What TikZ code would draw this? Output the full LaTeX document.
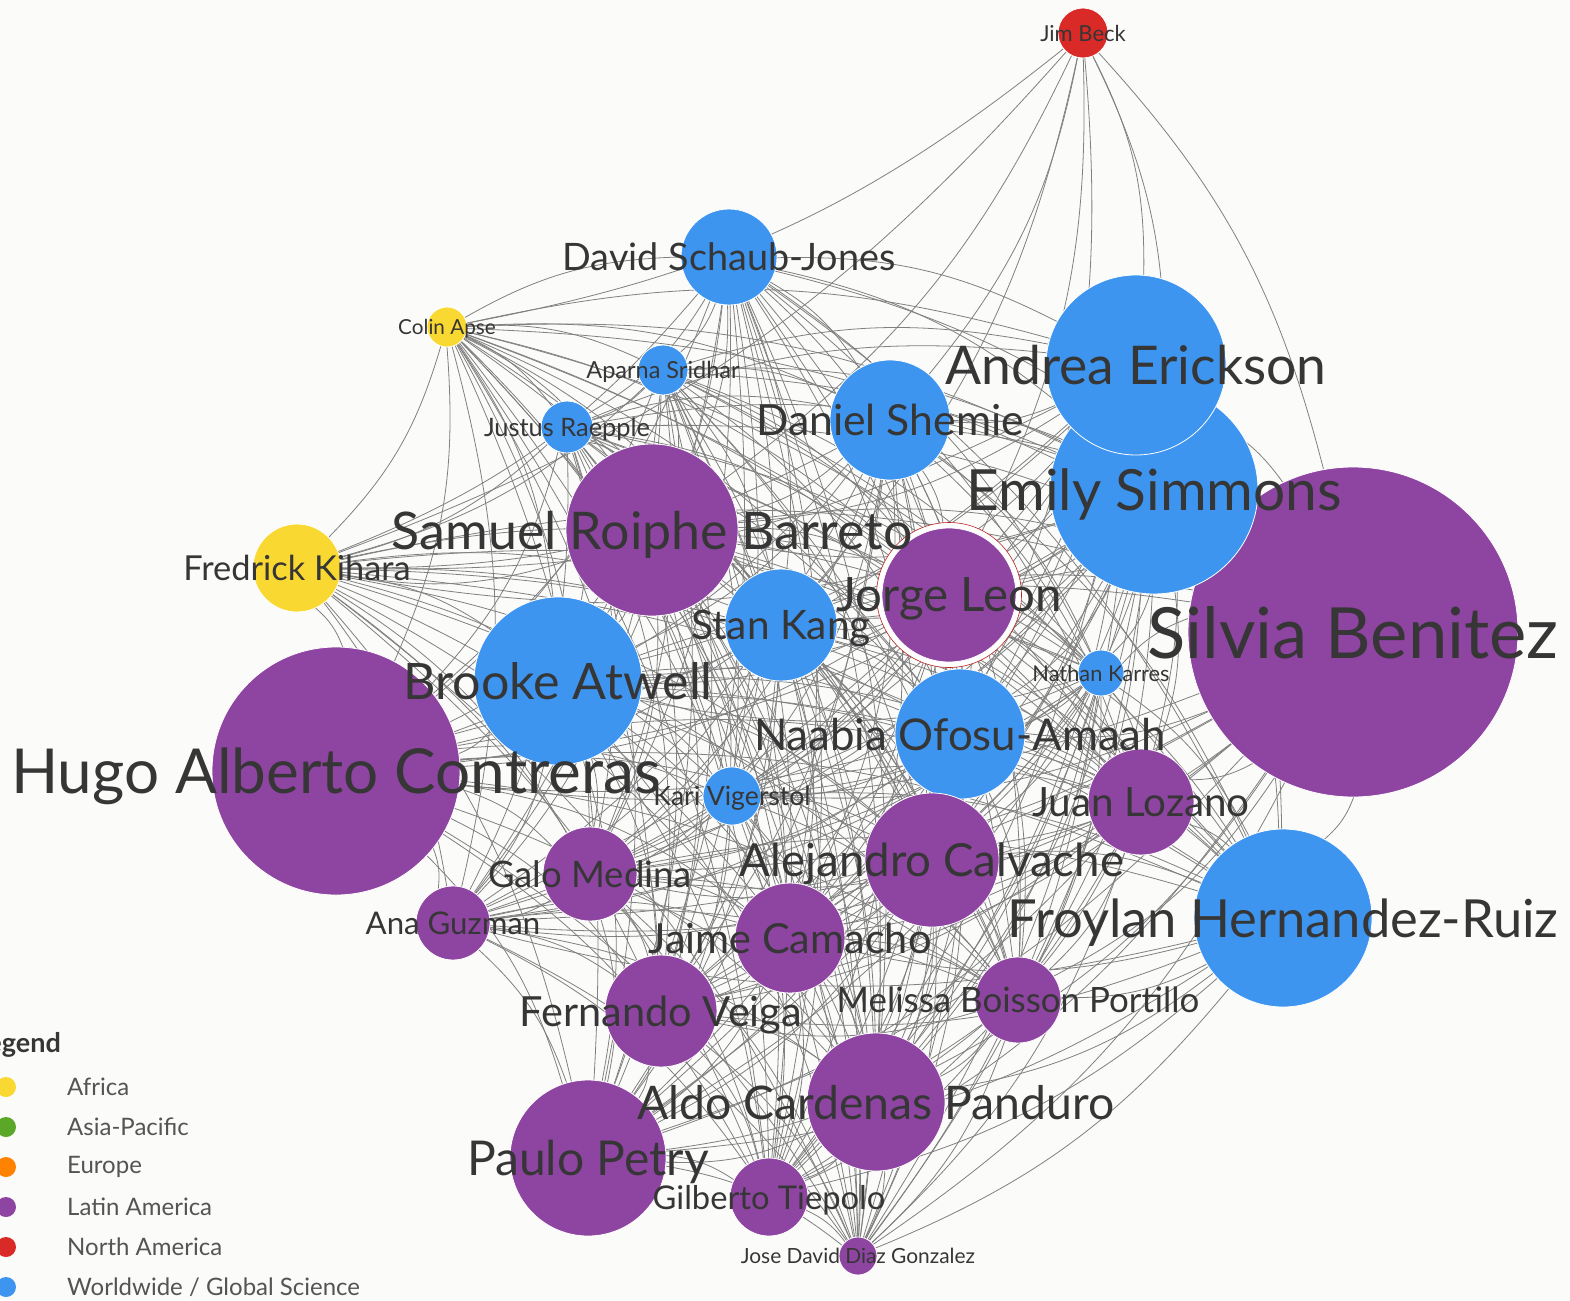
\documentclass[tikz,border=0pt]{standalone}
\usepackage{fontspec}
\setmainfont{Lato}
\usepackage{xcolor}
\usepackage{tikz}
\usetikzlibrary{backgrounds}

\definecolor{latam}{HTML}{8E44A1}
\definecolor{world}{HTML}{3D95F0}
\definecolor{africa}{HTML}{F9D931}
\definecolor{namer}{HTML}{D92A27}
\definecolor{asiap}{HTML}{5BA829}
\definecolor{europe}{HTML}{FF8300}
\definecolor{ink}{HTML}{363636}
\definecolor{paper}{HTML}{FBFBF9}

\newcommand{\fsz}[1]{\fontsize{#1}{#1}\selectfont}

\begin{document}
\begin{tikzpicture}[
  x=1pt,y=-1pt,
  person/.style={circle,draw=white,line width=0.8pt,inner sep=0pt,
                 outer sep=0pt,minimum size=2*#1},
  la/.style={person=#1,fill=latam},
  ww/.style={person=#1,fill=world},
  af/.style={person=#1,fill=africa},
  na/.style={person=#1,fill=namer},
  who/.style={text=ink,inner sep=0pt,text depth=0pt,font=\fsz{#1}},
  tie/.style={draw=black!50,line width=0.8pt},
  dot/.style={circle,inner sep=0pt,minimum size=20},
  key/.style={anchor=west,text=ink!85,inner sep=0pt,font=\fsz{24}}
]
\useasboundingbox (0,0) rectangle (1570,1300);

% people (size = radius)
\node[na=25] (jb) at (1083,33) {};
\node[ww=48] (dsj) at (729,257) {};
\node[af=20] (ca) at (447,327) {};
\node[ww=25] (as) at (663,370) {};
\node[ww=26] (jr) at (567,427) {};
\node[la=165] (sb) at (1353,632) {};
\node[ww=104] (es) at (1154,490) {};
\node[ww=90] (ae) at (1136,365) {};
\node[ww=60] (ds) at (890,420) {};
\node[la=86] (srb) at (652,530) {};
\node[af=44] (fk) at (297,568) {};
\node[circle,draw=namer!85!black,fill=white,line width=0.6pt,minimum size=145,
      inner sep=0pt] (jl-ring) at (949,595) {};
\node[la=67] (jl) at (949,595) {};
\node[ww=56] (sk) at (781,625) {};
\node[ww=23] (nk) at (1101,673) {};
\node[ww=84] (ba) at (558,681) {};
\node[la=124] (hac) at (336,771) {};
\node[ww=65] (noa) at (960,734) {};
\node[ww=29] (kv) at (732,796) {};
\node[la=53] (jlz) at (1141,802) {};
\node[la=67] (ac) at (932,860) {};
\node[la=47] (gm) at (590,874) {};
\node[ww=89] (fhr) at (1283,918) {};
\node[la=37] (ag) at (453,923) {};
\node[la=55] (jc) at (790,938) {};
\node[la=43] (mbp) at (1018,1000) {};
\node[la=56] (fv) at (661,1011) {};
\node[la=69] (acp) at (876,1102) {};
\node[la=78] (pp) at (588,1158) {};
\node[la=39] (gt) at (769,1197) {};
\node[la=19] (jddg) at (858,1256) {};

% names on top
\node[who=22] (jb-t) at (jb) {Jim Beck};
\node[who=37.8] (dsj-t) at (dsj) {David Schaub-Jones};
\node[who=20.7] (ca-t) at (ca) {Colin Apse};
\node[who=23.5] (as-t) at (as) {Aparna Sridhar};
\node[who=25.4] (jr-t) at (jr) {Justus Raepple};
\node[who=70.6] (sb-t) at (sb) {Silvia Benitez};
\node[who=56.8] (es-t) at (es) {Emily Simmons};
\node[who=53.4] (ae-t) at (ae) {Andrea Erickson};
\node[who=42.7] (ds-t) at (ds) {Daniel Shemie};
\node[who=51.9] (srb-t) at (srb) {Samuel Roiphe Barreto};
\node[who=34.4] (fk-t) at (fk) {Fredrick Kihara};
\node[who=47.4] (jl-t) at (jl) {Jorge Leon};
\node[who=40.6] (sk-t) at (sk) {Stan Kang};
\node[who=21.8] (nk-t) at (nk) {Nathan Karres};
\node[who=50.2] (ba-t) at (ba) {Brooke Atwell};
\node[who=62] (hac-t) at (hac) {Hugo Alberto Contreras};
\node[who=43.8] (noa-t) at (noa) {Naabia Ofosu-Amaah};
\node[who=26.5] (kv-t) at (kv) {Kari Vigerstol};
\node[who=40.4] (jlz-t) at (jlz) {Juan Lozano};
\node[who=45.6] (ac-t) at (ac) {Alejandro Calvache};
\node[who=36.5] (gm-t) at (gm) {Galo Medina};
\node[who=52.5] (fhr-t) at (fhr) {Froylan Hernandez-Ruiz};
\node[who=31.2] (ag-t) at (ag) {Ana Guzman};
\node[who=41.4] (jc-t) at (jc) {Jaime Camacho};
\node[who=34.9] (mbp-t) at (mbp) {Melissa Boisson Portillo};
\node[who=41.5] (fv-t) at (fv) {Fernando Veiga};
\node[who=46.3] (acp-t) at (acp) {Aldo Cardenas Panduro};
\node[who=48] (pp-t) at (pp) {Paulo Petry};
\node[who=32.7] (gt-t) at (gt) {Gilberto Tiepolo};
\node[who=20.9] (jddg-t) at (jddg) {Jose David Diaz Gonzalez};

% legend
\node[anchor=base east,text=ink,inner sep=0pt,font=\fsz{27}\bfseries]
  (leg) at (61,1052) {Legend};
\foreach \c/\t [count=\k] in {africa/Africa,asiap/Asia-Pacific,europe/Europe,
    latam/Latin America,namer/North America,world/{Worldwide / Global Science}}{
  \node[dot,fill=\c] (d\k) at (6,1047+40*\k) {};
  \node[key] (k\k) at (67,1047+40*\k) {\t};
}

% collaboration links
\def\crowd{ca,dsj,as,jr,ae,ds,es,srb,fk,jl,sk,nk,ba,sb,hac,noa,kv,jlz,ac,gm,fhr,ag,jc,mbp,fv,acp,pp,gt,jddg}
\begin{pgfonlayer}{background}
  \fill[paper] (0,0) rectangle (1570,1300);
  \foreach \a [count=\i] in \crowd {
    \foreach \b [count=\j] in \crowd {
      \ifnum\j>\i \draw[tie] (\a) to[bend left=14] (\b); \fi
    }
  }
  \foreach \b in {ca,fk,srb,ds,sk,jl,noa,ae,es,sb}
    \draw[tie] (jb) to[bend left=14] (\b);
\end{pgfonlayer}
\end{tikzpicture}
\end{document}
